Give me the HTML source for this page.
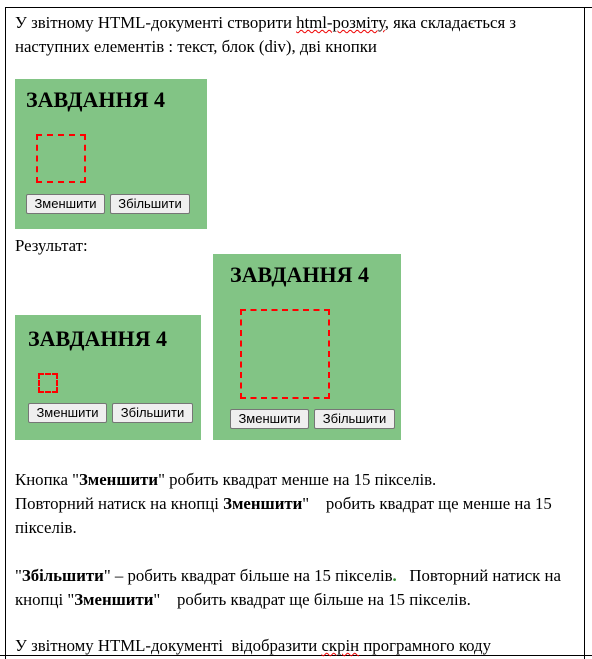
<!DOCTYPE html>
<html><head><meta charset="utf-8"><style>
body{margin:0;width:592px;height:659px;position:relative;background:#fff;overflow:hidden;font-family:"Liberation Serif",serif;font-size:16.8px;color:#000}
.a{position:absolute;white-space:nowrap}
.ln{position:absolute;background:#000}
.box{position:absolute;background:#82c485}
.h{position:absolute;font-weight:bold;font-size:22px;white-space:nowrap;font-family:"Liberation Serif",serif}
.sq{position:absolute;border:2px dashed #f00;box-sizing:border-box}
.btn{position:absolute;height:20px;box-sizing:border-box;border:1px solid #767676;border-radius:2px;background:#efefef;font-family:"Liberation Sans",sans-serif;font-size:13px;text-align:center;line-height:18px}
.w{text-decoration:underline wavy #e00;text-decoration-thickness:1px}
</style></head><body>
<div class="ln" style="left:5px;top:7px;width:587px;height:1px"></div>
<div class="ln" style="left:5px;top:7px;width:1px;height:652px"></div>
<div class="ln" style="left:584px;top:7px;width:1px;height:652px"></div>
<div class="ln" style="left:0;top:655px;width:592px;height:1px"></div>

<div class="a" style="left:15px;top:13px">У звітному HTML-документі створити <span class="w">html-розміту</span>, яка складається з</div>
<div class="a" style="left:15px;top:37px">наступних елементів : текст, блок (div), дві кнопки</div>

<div class="box" style="left:15px;top:79px;width:192px;height:150px"></div>
<div class="h" style="left:26px;top:87px">ЗАВДАННЯ 4</div>
<div class="sq" style="left:36px;top:134px;width:50px;height:49px"></div>
<div class="btn" style="left:26px;top:194px;width:79px">Зменшити</div>
<div class="btn" style="left:110px;top:194px;width:80px">Збільшити</div>

<div class="a" style="left:15px;top:236px">Результат:</div>

<div class="box" style="left:15px;top:315px;width:186px;height:125px"></div>
<div class="h" style="left:28px;top:326px">ЗАВДАННЯ 4</div>
<div class="sq" style="left:38px;top:373px;width:20px;height:20px"></div>
<div class="btn" style="left:28px;top:403px;width:79px">Зменшити</div>
<div class="btn" style="left:112px;top:403px;width:81px">Збільшити</div>

<div class="box" style="left:213px;top:254px;width:188px;height:186px"></div>
<div class="h" style="left:230px;top:262px">ЗАВДАННЯ 4</div>
<div class="sq" style="left:240px;top:309px;width:90px;height:90px"></div>
<div class="btn" style="left:230px;top:409px;width:79px">Зменшити</div>
<div class="btn" style="left:314px;top:409px;width:81px">Збільшити</div>

<div class="a" style="left:15px;top:470px">Кнопка "<b>Зменшити</b>" робить квадрат менше на 15 пікселів.</div>
<div class="a" style="left:15px;top:494px">Повторний натиск на кнопці <b>Зменшити</b>"&nbsp;&nbsp;&nbsp; робить квадрат ще менше на 15</div>
<div class="a" style="left:15px;top:518px">пікселів.</div>
<div class="a" style="left:15px;top:566px">"<b>Збільшити</b>" – робить квадрат більше на 15 пікселів<b style="color:#2a8a2a">.</b>&nbsp;&nbsp; Повторний натиск на</div>
<div class="a" style="left:15px;top:590px">кнопці "<b>Зменшити</b>"&nbsp;&nbsp;&nbsp; робить квадрат ще більше на 15 пікселів.</div>
<div class="a" style="left:15px;top:636px">У звітному HTML-документі&nbsp; відобразити <span class="w">скрін</span> програмного коду</div>
</body></html>
